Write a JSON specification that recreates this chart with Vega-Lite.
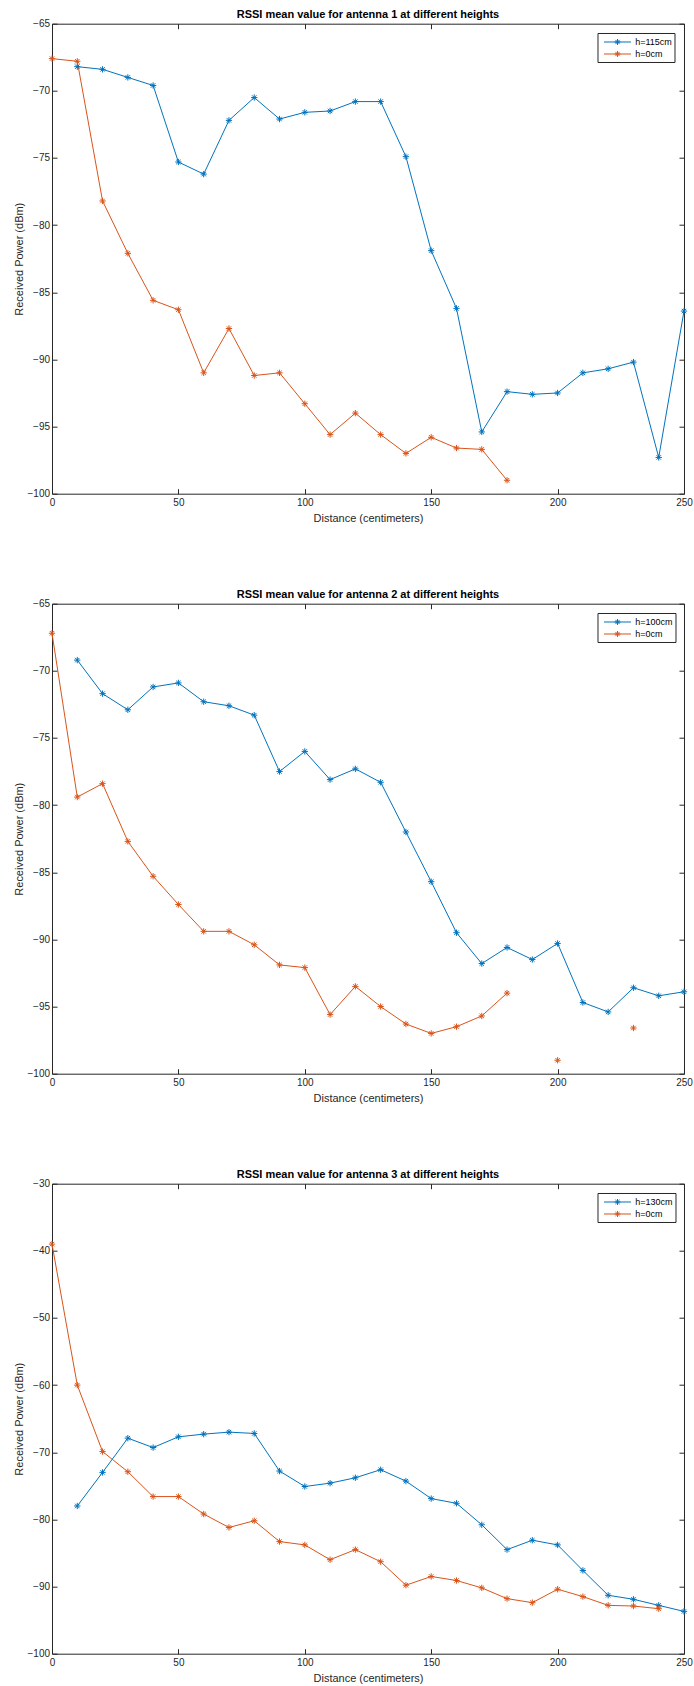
{
  "$schema": "https://vega.github.io/schema/vega-lite/v6.json",
  "background": "white",
  "padding": {"left": 12, "top": 8.7, "right": 0, "bottom": 0},
  "spacing": 110,
  "bounds": "flush",
  "config": {
    "font": "Liberation Sans",
    "view": {"stroke": "#262626", "strokeWidth": 1},
    "axis": {"labelFont": "Liberation Sans", "labelFontSize": 10, "labelColor": "#262626", "tickColor": "#262626", "tickSize": 5, "offset": -5, "domain": false, "grid": false, "titleFont": "Liberation Sans", "titleFontSize": 11, "titleFontWeight": "normal", "titleColor": "#262626", "labelFlush": false, "labelOverlap": false},
    "title": {"font": "Liberation Sans", "fontSize": 11, "fontWeight": "bold", "color": "#000000", "offset": -1.8, "anchor": "middle"},
    "legend": {"orient": "none", "legendX": 545.5, "legendY": 9.3, "strokeColor": "#262626", "fillColor": "white", "padding": 2.5, "rowPadding": 0, "symbolSize": 144, "symbolOffset": 11, "labelOffset": 11.2, "labelFontSize": 9, "labelFont": "Liberation Sans", "labelColor": "#000000", "symbolStrokeWidth": 1, "symbolType": "M-2.25,0L2.25,0M-0.5,0L0.5,0M0,-0.5L0,0.5M-0.35,-0.35L0.35,0.35M-0.35,0.35L0.35,-0.35", "title": null}
  },
  "datasets": {
    "rssi": [
      {"panel": 1, "series": "h=115cm", "d": 10, "p": -68.2},
      {"panel": 1, "series": "h=115cm", "d": 20, "p": -68.4},
      {"panel": 1, "series": "h=115cm", "d": 30, "p": -69.0},
      {"panel": 1, "series": "h=115cm", "d": 40, "p": -69.6},
      {"panel": 1, "series": "h=115cm", "d": 50, "p": -75.3},
      {"panel": 1, "series": "h=115cm", "d": 60, "p": -76.2},
      {"panel": 1, "series": "h=115cm", "d": 70, "p": -72.2},
      {"panel": 1, "series": "h=115cm", "d": 80, "p": -70.5},
      {"panel": 1, "series": "h=115cm", "d": 90, "p": -72.1},
      {"panel": 1, "series": "h=115cm", "d": 100, "p": -71.6},
      {"panel": 1, "series": "h=115cm", "d": 110, "p": -71.5},
      {"panel": 1, "series": "h=115cm", "d": 120, "p": -70.8},
      {"panel": 1, "series": "h=115cm", "d": 130, "p": -70.8},
      {"panel": 1, "series": "h=115cm", "d": 140, "p": -74.9},
      {"panel": 1, "series": "h=115cm", "d": 150, "p": -81.9},
      {"panel": 1, "series": "h=115cm", "d": 160, "p": -86.2},
      {"panel": 1, "series": "h=115cm", "d": 170, "p": -95.4},
      {"panel": 1, "series": "h=115cm", "d": 180, "p": -92.4},
      {"panel": 1, "series": "h=115cm", "d": 190, "p": -92.6},
      {"panel": 1, "series": "h=115cm", "d": 200, "p": -92.5},
      {"panel": 1, "series": "h=115cm", "d": 210, "p": -91.0},
      {"panel": 1, "series": "h=115cm", "d": 220, "p": -90.7},
      {"panel": 1, "series": "h=115cm", "d": 230, "p": -90.2},
      {"panel": 1, "series": "h=115cm", "d": 240, "p": -97.3},
      {"panel": 1, "series": "h=115cm", "d": 250, "p": -86.4},
      {"panel": 1, "series": "h=0cm", "d": 0, "p": -67.6},
      {"panel": 1, "series": "h=0cm", "d": 10, "p": -67.8},
      {"panel": 1, "series": "h=0cm", "d": 20, "p": -78.2},
      {"panel": 1, "series": "h=0cm", "d": 30, "p": -82.1},
      {"panel": 1, "series": "h=0cm", "d": 40, "p": -85.6},
      {"panel": 1, "series": "h=0cm", "d": 50, "p": -86.3},
      {"panel": 1, "series": "h=0cm", "d": 60, "p": -91.0},
      {"panel": 1, "series": "h=0cm", "d": 70, "p": -87.7},
      {"panel": 1, "series": "h=0cm", "d": 80, "p": -91.2},
      {"panel": 1, "series": "h=0cm", "d": 90, "p": -91.0},
      {"panel": 1, "series": "h=0cm", "d": 100, "p": -93.3},
      {"panel": 1, "series": "h=0cm", "d": 110, "p": -95.6},
      {"panel": 1, "series": "h=0cm", "d": 120, "p": -94.0},
      {"panel": 1, "series": "h=0cm", "d": 130, "p": -95.6},
      {"panel": 1, "series": "h=0cm", "d": 140, "p": -97.0},
      {"panel": 1, "series": "h=0cm", "d": 150, "p": -95.8},
      {"panel": 1, "series": "h=0cm", "d": 160, "p": -96.6},
      {"panel": 1, "series": "h=0cm", "d": 170, "p": -96.7},
      {"panel": 1, "series": "h=0cm", "d": 180, "p": -99.0},
      {"panel": 2, "series": "h=100cm", "d": 10, "p": -69.2},
      {"panel": 2, "series": "h=100cm", "d": 20, "p": -71.7},
      {"panel": 2, "series": "h=100cm", "d": 30, "p": -72.9},
      {"panel": 2, "series": "h=100cm", "d": 40, "p": -71.2},
      {"panel": 2, "series": "h=100cm", "d": 50, "p": -70.9},
      {"panel": 2, "series": "h=100cm", "d": 60, "p": -72.3},
      {"panel": 2, "series": "h=100cm", "d": 70, "p": -72.6},
      {"panel": 2, "series": "h=100cm", "d": 80, "p": -73.3},
      {"panel": 2, "series": "h=100cm", "d": 90, "p": -77.5},
      {"panel": 2, "series": "h=100cm", "d": 100, "p": -76.0},
      {"panel": 2, "series": "h=100cm", "d": 110, "p": -78.1},
      {"panel": 2, "series": "h=100cm", "d": 120, "p": -77.3},
      {"panel": 2, "series": "h=100cm", "d": 130, "p": -78.3},
      {"panel": 2, "series": "h=100cm", "d": 140, "p": -82.0},
      {"panel": 2, "series": "h=100cm", "d": 150, "p": -85.7},
      {"panel": 2, "series": "h=100cm", "d": 160, "p": -89.5},
      {"panel": 2, "series": "h=100cm", "d": 170, "p": -91.8},
      {"panel": 2, "series": "h=100cm", "d": 180, "p": -90.6},
      {"panel": 2, "series": "h=100cm", "d": 190, "p": -91.5},
      {"panel": 2, "series": "h=100cm", "d": 200, "p": -90.3},
      {"panel": 2, "series": "h=100cm", "d": 210, "p": -94.7},
      {"panel": 2, "series": "h=100cm", "d": 220, "p": -95.4},
      {"panel": 2, "series": "h=100cm", "d": 230, "p": -93.6},
      {"panel": 2, "series": "h=100cm", "d": 240, "p": -94.2},
      {"panel": 2, "series": "h=100cm", "d": 250, "p": -93.9},
      {"panel": 2, "series": "h=0cm", "d": 0, "p": -67.2},
      {"panel": 2, "series": "h=0cm", "d": 10, "p": -79.4},
      {"panel": 2, "series": "h=0cm", "d": 20, "p": -78.4},
      {"panel": 2, "series": "h=0cm", "d": 30, "p": -82.7},
      {"panel": 2, "series": "h=0cm", "d": 40, "p": -85.3},
      {"panel": 2, "series": "h=0cm", "d": 50, "p": -87.4},
      {"panel": 2, "series": "h=0cm", "d": 60, "p": -89.4},
      {"panel": 2, "series": "h=0cm", "d": 70, "p": -89.4},
      {"panel": 2, "series": "h=0cm", "d": 80, "p": -90.4},
      {"panel": 2, "series": "h=0cm", "d": 90, "p": -91.9},
      {"panel": 2, "series": "h=0cm", "d": 100, "p": -92.1},
      {"panel": 2, "series": "h=0cm", "d": 110, "p": -95.6},
      {"panel": 2, "series": "h=0cm", "d": 120, "p": -93.5},
      {"panel": 2, "series": "h=0cm", "d": 130, "p": -95.0},
      {"panel": 2, "series": "h=0cm", "d": 140, "p": -96.3},
      {"panel": 2, "series": "h=0cm", "d": 150, "p": -97.0},
      {"panel": 2, "series": "h=0cm", "d": 160, "p": -96.5},
      {"panel": 2, "series": "h=0cm", "d": 170, "p": -95.7},
      {"panel": 2, "series": "h=0cm", "d": 180, "p": -94.0},
      {"panel": 2, "series": "h=0cm", "d": 190, "p": null},
      {"panel": 2, "series": "h=0cm", "d": 200, "p": -99.0},
      {"panel": 2, "series": "h=0cm", "d": 210, "p": null},
      {"panel": 2, "series": "h=0cm", "d": 220, "p": null},
      {"panel": 2, "series": "h=0cm", "d": 230, "p": -96.6},
      {"panel": 3, "series": "h=130cm", "d": 10, "p": -78.0},
      {"panel": 3, "series": "h=130cm", "d": 20, "p": -73.0},
      {"panel": 3, "series": "h=130cm", "d": 30, "p": -67.9},
      {"panel": 3, "series": "h=130cm", "d": 40, "p": -69.3},
      {"panel": 3, "series": "h=130cm", "d": 50, "p": -67.7},
      {"panel": 3, "series": "h=130cm", "d": 60, "p": -67.3},
      {"panel": 3, "series": "h=130cm", "d": 70, "p": -67.0},
      {"panel": 3, "series": "h=130cm", "d": 80, "p": -67.2},
      {"panel": 3, "series": "h=130cm", "d": 90, "p": -72.8},
      {"panel": 3, "series": "h=130cm", "d": 100, "p": -75.1},
      {"panel": 3, "series": "h=130cm", "d": 110, "p": -74.6},
      {"panel": 3, "series": "h=130cm", "d": 120, "p": -73.8},
      {"panel": 3, "series": "h=130cm", "d": 130, "p": -72.6},
      {"panel": 3, "series": "h=130cm", "d": 140, "p": -74.3},
      {"panel": 3, "series": "h=130cm", "d": 150, "p": -76.9},
      {"panel": 3, "series": "h=130cm", "d": 160, "p": -77.6},
      {"panel": 3, "series": "h=130cm", "d": 170, "p": -80.8},
      {"panel": 3, "series": "h=130cm", "d": 180, "p": -84.5},
      {"panel": 3, "series": "h=130cm", "d": 190, "p": -83.1},
      {"panel": 3, "series": "h=130cm", "d": 200, "p": -83.8},
      {"panel": 3, "series": "h=130cm", "d": 210, "p": -87.6},
      {"panel": 3, "series": "h=130cm", "d": 220, "p": -91.3},
      {"panel": 3, "series": "h=130cm", "d": 230, "p": -91.9},
      {"panel": 3, "series": "h=130cm", "d": 240, "p": -92.8},
      {"panel": 3, "series": "h=130cm", "d": 250, "p": -93.7},
      {"panel": 3, "series": "h=0cm", "d": 0, "p": -39.0},
      {"panel": 3, "series": "h=0cm", "d": 10, "p": -60.0},
      {"panel": 3, "series": "h=0cm", "d": 20, "p": -69.9},
      {"panel": 3, "series": "h=0cm", "d": 30, "p": -72.9},
      {"panel": 3, "series": "h=0cm", "d": 40, "p": -76.6},
      {"panel": 3, "series": "h=0cm", "d": 50, "p": -76.6},
      {"panel": 3, "series": "h=0cm", "d": 60, "p": -79.2},
      {"panel": 3, "series": "h=0cm", "d": 70, "p": -81.2},
      {"panel": 3, "series": "h=0cm", "d": 80, "p": -80.2},
      {"panel": 3, "series": "h=0cm", "d": 90, "p": -83.3},
      {"panel": 3, "series": "h=0cm", "d": 100, "p": -83.8},
      {"panel": 3, "series": "h=0cm", "d": 110, "p": -86.0},
      {"panel": 3, "series": "h=0cm", "d": 120, "p": -84.5},
      {"panel": 3, "series": "h=0cm", "d": 130, "p": -86.3},
      {"panel": 3, "series": "h=0cm", "d": 140, "p": -89.8},
      {"panel": 3, "series": "h=0cm", "d": 150, "p": -88.5},
      {"panel": 3, "series": "h=0cm", "d": 160, "p": -89.1},
      {"panel": 3, "series": "h=0cm", "d": 170, "p": -90.2},
      {"panel": 3, "series": "h=0cm", "d": 180, "p": -91.8},
      {"panel": 3, "series": "h=0cm", "d": 190, "p": -92.4},
      {"panel": 3, "series": "h=0cm", "d": 200, "p": -90.4},
      {"panel": 3, "series": "h=0cm", "d": 210, "p": -91.5},
      {"panel": 3, "series": "h=0cm", "d": 220, "p": -92.8},
      {"panel": 3, "series": "h=0cm", "d": 230, "p": -92.9},
      {"panel": 3, "series": "h=0cm", "d": 240, "p": -93.3}
    ]
  },
  "resolve": {"scale": {"color": "independent", "x": "independent", "y": "independent"}, "legend": {"color": "independent"}, "axis": {"x": "independent", "y": "independent"}},
  "vconcat": [
    {
      "width": 632, "height": 470,
      "title": "RSSI mean value for antenna 1 at different heights",
      "data": {"name": "rssi"},
      "transform": [{"filter": "datum.panel == 1"}],
      "encoding": {
        "color": {"field": "series", "type": "nominal", "scale": {"domain": ["h=115cm", "h=0cm"], "range": ["#0072BD", "#D95319"]}, "legend": {}}
      },
      "layer": [
        {"mark": {"type": "line", "strokeWidth": 1},
         "encoding": {
           "x": {"field": "d", "type": "quantitative", "scale": {"domain": [0, 250], "nice": false, "zero": false}, "axis": {"values": [0, 50, 100, 150, 200, 250], "title": "Distance (centimeters)", "labelPadding": 4.2, "titlePadding": 5}},
           "y": {"field": "p", "type": "quantitative", "scale": {"domain": [-100, -65], "nice": false, "zero": false}, "axis": {"values": [-100, -95, -90, -85, -80, -75, -70, -65], "title": "Received Power (dBm)", "labelPadding": 2.5, "titlePadding": 2.5}}
         }},
        {"mark": {"type": "point", "shape": "M-1,0L1,0M0,-1L0,1M-0.7,-0.7L0.7,0.7M-0.7,0.7L0.7,-0.7", "filled": false, "size": 40, "strokeWidth": 1, "opacity": 1},
         "encoding": {
           "x": {"field": "d", "type": "quantitative", "scale": {"domain": [0, 250], "nice": false, "zero": false}, "axis": {"orient": "top", "values": [0, 50, 100, 150, 200, 250], "labels": false, "title": null}},
           "y": {"field": "p", "type": "quantitative", "scale": {"domain": [-100, -65], "nice": false, "zero": false}, "axis": {"orient": "right", "values": [-100, -95, -90, -85, -80, -75, -70, -65], "labels": false, "title": null}}
         }}
      ],
      "resolve": {"axis": {"x": "independent", "y": "independent"}}
    },
    {
      "width": 632, "height": 470,
      "title": "RSSI mean value for antenna 2 at different heights",
      "data": {"name": "rssi"},
      "transform": [{"filter": "datum.panel == 2"}],
      "encoding": {
        "color": {"field": "series", "type": "nominal", "scale": {"domain": ["h=100cm", "h=0cm"], "range": ["#0072BD", "#D95319"]}, "legend": {}}
      },
      "layer": [
        {"mark": {"type": "line", "strokeWidth": 1},
         "encoding": {
           "x": {"field": "d", "type": "quantitative", "scale": {"domain": [0, 250], "nice": false, "zero": false}, "axis": {"values": [0, 50, 100, 150, 200, 250], "title": "Distance (centimeters)", "labelPadding": 4.2, "titlePadding": 5}},
           "y": {"field": "p", "type": "quantitative", "scale": {"domain": [-100, -65], "nice": false, "zero": false}, "axis": {"values": [-100, -95, -90, -85, -80, -75, -70, -65], "title": "Received Power (dBm)", "labelPadding": 2.5, "titlePadding": 2.5}}
         }},
        {"mark": {"type": "point", "shape": "M-1,0L1,0M0,-1L0,1M-0.7,-0.7L0.7,0.7M-0.7,0.7L0.7,-0.7", "filled": false, "size": 40, "strokeWidth": 1, "opacity": 1},
         "encoding": {
           "x": {"field": "d", "type": "quantitative", "scale": {"domain": [0, 250], "nice": false, "zero": false}, "axis": {"orient": "top", "values": [0, 50, 100, 150, 200, 250], "labels": false, "title": null}},
           "y": {"field": "p", "type": "quantitative", "scale": {"domain": [-100, -65], "nice": false, "zero": false}, "axis": {"orient": "right", "values": [-100, -95, -90, -85, -80, -75, -70, -65], "labels": false, "title": null}}
         }}
      ],
      "resolve": {"axis": {"x": "independent", "y": "independent"}}
    },
    {
      "width": 632, "height": 470,
      "title": "RSSI mean value for antenna 3 at different heights",
      "data": {"name": "rssi"},
      "transform": [{"filter": "datum.panel == 3"}],
      "encoding": {
        "color": {"field": "series", "type": "nominal", "scale": {"domain": ["h=130cm", "h=0cm"], "range": ["#0072BD", "#D95319"]}, "legend": {}}
      },
      "layer": [
        {"mark": {"type": "line", "strokeWidth": 1},
         "encoding": {
           "x": {"field": "d", "type": "quantitative", "scale": {"domain": [0, 250], "nice": false, "zero": false}, "axis": {"values": [0, 50, 100, 150, 200, 250], "title": "Distance (centimeters)", "labelPadding": 4.2, "titlePadding": 5}},
           "y": {"field": "p", "type": "quantitative", "scale": {"domain": [-100, -30], "nice": false, "zero": false}, "axis": {"values": [-100, -90, -80, -70, -60, -50, -40, -30], "title": "Received Power (dBm)", "labelPadding": 2.5, "titlePadding": 2.5}}
         }},
        {"mark": {"type": "point", "shape": "M-1,0L1,0M0,-1L0,1M-0.7,-0.7L0.7,0.7M-0.7,0.7L0.7,-0.7", "filled": false, "size": 40, "strokeWidth": 1, "opacity": 1},
         "encoding": {
           "x": {"field": "d", "type": "quantitative", "scale": {"domain": [0, 250], "nice": false, "zero": false}, "axis": {"orient": "top", "values": [0, 50, 100, 150, 200, 250], "labels": false, "title": null}},
           "y": {"field": "p", "type": "quantitative", "scale": {"domain": [-100, -30], "nice": false, "zero": false}, "axis": {"orient": "right", "values": [-100, -90, -80, -70, -60, -50, -40, -30], "labels": false, "title": null}}
         }}
      ],
      "resolve": {"axis": {"x": "independent", "y": "independent"}}
    }
  ]
}
